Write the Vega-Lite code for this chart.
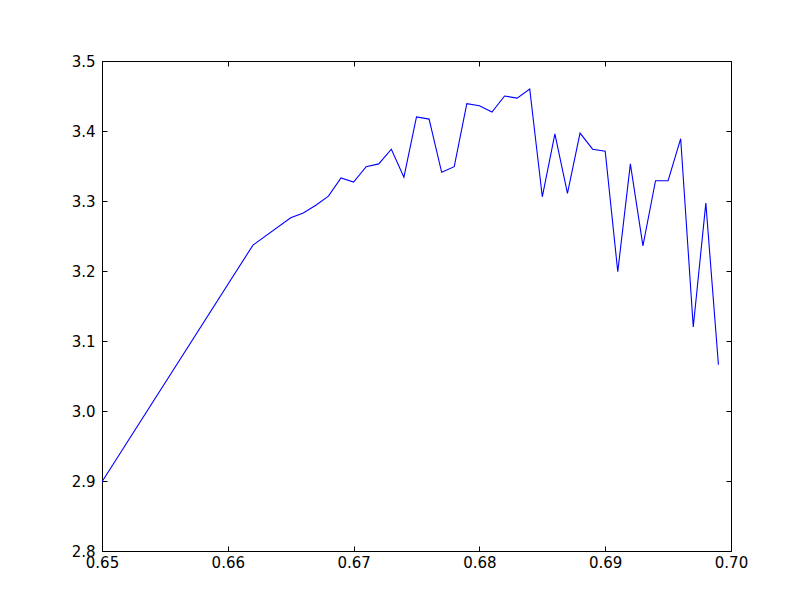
{
  "$schema": "https://vega.github.io/schema/vega-lite/v6.json",
  "width": 629,
  "height": 490,
  "autosize": {"type": "none"},
  "padding": {"left": 102, "top": 61, "right": 81, "bottom": 61},
  "background": "white",
  "config": {
    "view": {"stroke": null},
    "axis": {
      "grid": false,
      "domainColor": "black",
      "domainWidth": 1,
      "tickColor": "black",
      "tickSize": -5,
      "tickWidth": 1,
      "labelFont": "DejaVu Sans",
      "labelFontSize": 15,
      "labelColor": "black",
      "title": null
    }
  },
  "data": {
    "values": [
      {"x": 0.650, "y": 2.899},
      {"x": 0.662, "y": 3.237},
      {"x": 0.665, "y": 3.276},
      {"x": 0.666, "y": 3.283},
      {"x": 0.667, "y": 3.294},
      {"x": 0.668, "y": 3.307},
      {"x": 0.669, "y": 3.333},
      {"x": 0.670, "y": 3.327},
      {"x": 0.671, "y": 3.349},
      {"x": 0.672, "y": 3.353},
      {"x": 0.673, "y": 3.374},
      {"x": 0.674, "y": 3.334},
      {"x": 0.675, "y": 3.420},
      {"x": 0.676, "y": 3.417},
      {"x": 0.677, "y": 3.341},
      {"x": 0.678, "y": 3.349},
      {"x": 0.679, "y": 3.439},
      {"x": 0.680, "y": 3.436},
      {"x": 0.681, "y": 3.427},
      {"x": 0.682, "y": 3.450},
      {"x": 0.683, "y": 3.447},
      {"x": 0.684, "y": 3.460},
      {"x": 0.685, "y": 3.306},
      {"x": 0.686, "y": 3.396},
      {"x": 0.687, "y": 3.311},
      {"x": 0.688, "y": 3.397},
      {"x": 0.689, "y": 3.374},
      {"x": 0.690, "y": 3.371},
      {"x": 0.691, "y": 3.199},
      {"x": 0.692, "y": 3.353},
      {"x": 0.693, "y": 3.236},
      {"x": 0.694, "y": 3.329},
      {"x": 0.695, "y": 3.329},
      {"x": 0.696, "y": 3.389},
      {"x": 0.697, "y": 3.120},
      {"x": 0.698, "y": 3.297},
      {"x": 0.699, "y": 3.066}
    ]
  },
  "layer": [
    {
      "mark": {"type": "line", "color": "#0000ff", "strokeWidth": 1.1, "clip": true},
      "encoding": {
        "x": {"field": "x", "type": "quantitative",
              "scale": {"domain": [0.65, 0.70], "nice": false, "zero": false},
              "axis": {"orient": "bottom", "values": [0.65, 0.66, 0.67, 0.68, 0.69, 0.70], "format": ".2f", "labelPadding": 9, "labelFlush": false}},
        "y": {"field": "y", "type": "quantitative",
              "scale": {"domain": [2.8, 3.5], "nice": false, "zero": false},
              "axis": {"orient": "left", "values": [2.8, 2.9, 3.0, 3.1, 3.2, 3.3, 3.4, 3.5], "format": ".1f", "labelPadding": 12, "labelFlush": false}}
      }
    },
    {
      "mark": {"type": "line", "opacity": 0},
      "encoding": {
        "x": {"field": "x", "type": "quantitative",
              "scale": {"domain": [0.65, 0.70], "nice": false, "zero": false},
              "axis": {"orient": "top", "values": [0.65, 0.66, 0.67, 0.68, 0.69, 0.70], "labels": false}},
        "y": {"field": "y", "type": "quantitative",
              "scale": {"domain": [2.8, 3.5], "nice": false, "zero": false},
              "axis": {"orient": "right", "values": [2.8, 2.9, 3.0, 3.1, 3.2, 3.3, 3.4, 3.5], "labels": false}}
      }
    }
  ],
  "resolve": {"scale": {"x": "independent", "y": "independent"}, "axis": {"x": "independent", "y": "independent"}}
}
